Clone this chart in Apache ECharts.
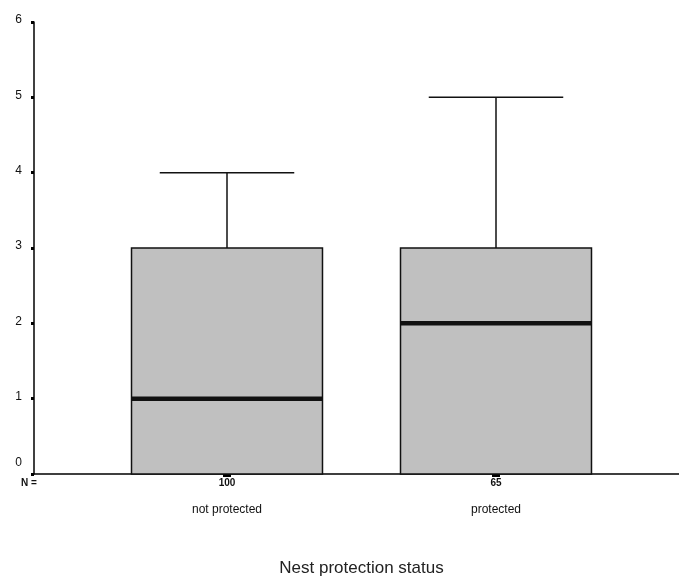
<!DOCTYPE html>
<html>
<head>
<meta charset="utf-8">
<script src="https://cdn.jsdelivr.net/npm/echarts@6/dist/echarts.min.js"></script>
<style>html,body{margin:0;padding:0;background:#fff;}#c{width:679px;height:581px;}</style>
</head>
<body>
<div id="c"></div>
<script>
const categories = ['not protected', 'protected'];
const nCounts = ['100', '65'];
const minVals = [0, 0];
const q1Vals = [0, 0];
const medianVals = [1, 2];
const q3Vals = [3, 3];
const maxVals = [4, 5];
const yTicks = [0, 1, 2, 3, 4, 5, 6];
const xTitle = 'Nest protection status';

const boxData = categories.map((c, i) => [i, minVals[i], q1Vals[i], medianVals[i], q3Vals[i], maxVals[i]]);
const FONT = '"Liberation Sans", Arial, sans-serif';

const chart = echarts.init(document.getElementById('c'));
chart.setOption({
  animation: false,
  backgroundColor: '#fff',
  grid: [
    { left: 92.5, right: 48.5, top: 22, bottom: 107, containLabel: false, outerBoundsMode: 'none' },
    { left: 34, right: 0, top: 22, bottom: 107, containLabel: false, outerBoundsMode: 'none' }
  ],
  xAxis: [
    {
      gridIndex: 0, type: 'category', data: categories, boundaryGap: true,
      axisLine: { show: false },
      axisTick: { show: true, alignWithLabel: true, length: 3, lineStyle: { color: '#000', width: 8 } },
      axisLabel: {
        margin: 2,
        formatter: (v, i) => '{n|' + nCounts[i] + '}\n{c|' + v + '}',
        rich: {
          n: { fontFamily: FONT, fontSize: 10, color: '#111', lineHeight: 14, fontWeight: 'bold' },
          c: { fontFamily: FONT, fontSize: 12, color: '#111', lineHeight: 40 }
        }
      },
      name: xTitle, nameLocation: 'middle', nameGap: 86,
      nameTextStyle: { fontFamily: FONT, fontSize: 17, color: '#222' },
      splitLine: { show: false }
    },
    {
      gridIndex: 1, type: 'value', min: 0, max: 1,
      axisLine: { show: true, onZero: false, lineStyle: { color: '#000', width: 1.5 } },
      axisTick: { show: false }, axisLabel: { show: false }, splitLine: { show: false }
    }
  ],
  yAxis: [
    { gridIndex: 0, type: 'value', min: 0, max: 6, interval: 1, show: false, splitLine: { show: false } },
    {
      gridIndex: 1, type: 'value', min: yTicks[0], max: yTicks[yTicks.length - 1], interval: 1,
      axisLine: { show: true, lineStyle: { color: '#000', width: 1.5 } },
      axisTick: { show: true, length: 3, lineStyle: { color: '#000', width: 3 } },
      axisLabel: {
        margin: 12,
        fontFamily: FONT, fontSize: 12, color: '#111',
        formatter: v => v === 0 ? '{z|0}' : '{a|' + v + '}',
        rich: {
          z: { fontFamily: FONT, fontSize: 12, color: '#111', padding: [0, 0, 22, 0] },
          a: { fontFamily: FONT, fontSize: 12, color: '#111', padding: [0, 0, 4, 0] }
        }
      },
      splitLine: { show: false }
    }
  ],
  graphic: [
    { type: 'text', left: 21, top: 478, style: { text: 'N =', fontFamily: FONT, fontSize: 10, fontWeight: 'bold', fill: '#111' } }
  ],
  series: [{
    type: 'custom',
    xAxisIndex: 0, yAxisIndex: 0,
    data: boxData,
    encode: { x: 0, y: [1, 2, 3, 4, 5] },
    renderItem: function (params, api) {
      const xi = api.value(0);
      const bw = api.size([1, 0])[0];
      const boxW = bw * 0.71;
      const capW = bw * 0.5;
      const pMin = api.coord([xi, api.value(1)]);
      const pQ1 = api.coord([xi, api.value(2)]);
      const pMed = api.coord([xi, api.value(3)]);
      const pQ3 = api.coord([xi, api.value(4)]);
      const pMax = api.coord([xi, api.value(5)]);
      const cx = pQ1[0];
      const line = (x1, y1, x2, y2, w) => ({ type: 'line', shape: { x1, y1, x2, y2 }, style: { stroke: '#111', lineWidth: w } });
      return {
        type: 'group',
        children: [
          line(cx, pQ3[1], cx, pMax[1], 1.5),
          line(cx - capW / 2, pMax[1], cx + capW / 2, pMax[1], 1.5),
          line(cx, pQ1[1], cx, pMin[1], 1.5),
          {
            type: 'rect',
            shape: { x: cx - boxW / 2, y: pQ3[1], width: boxW, height: pQ1[1] - pQ3[1] },
            style: { fill: '#c0c0c0', stroke: '#111', lineWidth: 1.5 }
          },
          line(cx - boxW / 2, pMed[1], cx + boxW / 2, pMed[1], 4.5)
        ]
      };
    }
  }]
});
</script>
</body>
</html>
